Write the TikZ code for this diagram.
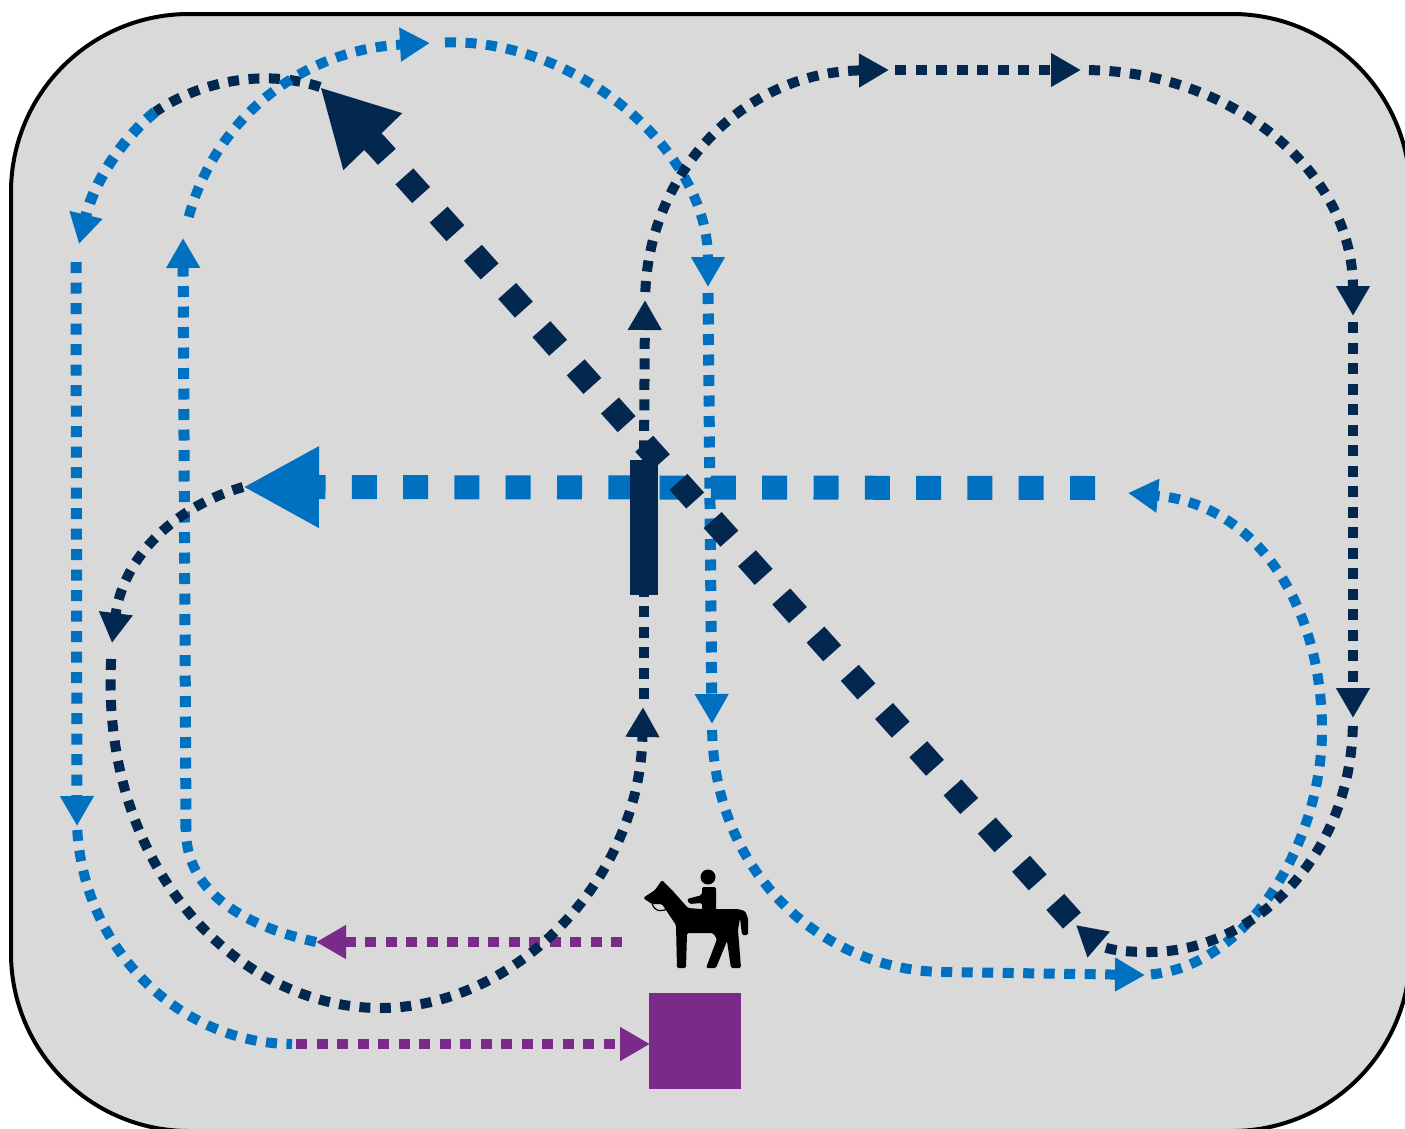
\documentclass[tikz,border=0pt]{standalone}
\usepackage{tikz}
\usetikzlibrary{arrows.meta}
\definecolor{ringgrey}{HTML}{D9D9D9}
\definecolor{trackblue}{HTML}{0070C0}
\definecolor{tracknavy}{HTML}{03284F}
\definecolor{trackpurple}{HTML}{7A2A88}
\tikzset{
  thin track/.style={line width=#1, dash pattern=on 11pt off 9.5pt, -{Triangle[length=30pt,width=32pt]}},
  thin track/.default=11pt,
  plain track/.style={line width=10pt, dash pattern=on 11pt off 9.5pt},
  wide track/.style={line width=24pt, dash pattern=on 25pt off 26.3pt, -{Triangle[length=76pt,width=76pt]}},
  gap/.style={shorten <=#1}
}
\begin{document}
\begin{tikzpicture}[x=1pt,y=-1pt]
   \useasboundingbox (0,0) rectangle (1405,1128);
   \clip (0,0) rectangle (1405,1128);
   \draw[fill=ringgrey, line width=4pt, rounded corners=178pt] (11,14) rectangle (1410,1131);

   \coordinate (tip) at (320,87);
   \coordinate (bend) at (378,147);
   \coordinate (a1) at (155,112);
   \coordinate (a2) at (79,244);
   \coordinate (a3) at (76,262);
   \coordinate (a4) at (77,826);
   \coordinate (a5) at (292,1044);
   \coordinate (b1) at (622,942);
   \coordinate (b2) at (316,942);
   \coordinate (b3) at (186,830);
   \coordinate (b4) at (183,238);
   \coordinate (b5) at (430,43);
   \coordinate (b6) at (708,287);
   \coordinate (b7) at (712,724);
   \coordinate (b8) at (945,972);
   \coordinate (b9) at (1145,975);
   \coordinate (b10) at (1322,730);
   \coordinate (b11) at (1128,493);
   \coordinate (c1) at (1095,488);
   \coordinate (c2) at (243,487);
   \coordinate (d1) at (112,643);
   \coordinate (d2) at (380,1008);
   \coordinate (d3) at (643,707);
   \coordinate (d4) at (645,300);
   \coordinate (d5) at (889,70);
   \coordinate (d6) at (1081,70);
   \coordinate (d7) at (1353,316);
   \coordinate (d8) at (1353,718);
   \coordinate (d9) at (1150,952);
   \coordinate (d10) at (1076,925);
   \coordinate (entry) at (650,1044);

   \node[fill=trackpurple, inner sep=0pt, minimum width=92pt, minimum height=96pt] (gate) at (695,1041) {};

   \path[draw=tracknavy, plain track] (tip) .. controls (270,70) and (205,78) .. (a1);
   \draw[trackblue, thin track] (a1) .. controls (115,145) and (92,190) .. (a2);
   \draw[trackblue, thin track] (a3) -- (a4);
   \draw[trackblue, plain track, gap=4pt] (a4) .. controls (85,955) and (185,1044) .. (a5);
   \draw[trackpurple, thin track=10pt, gap=4pt] (a5) -- (entry);

   \draw[trackpurple, thin track=10pt] (b1) -- (b2);
   \draw[trackblue, plain track] (b2) .. controls (240,925) and (186,890) .. (b3);
   \draw[trackblue, thin track] (b3) -- (b4);
   \draw[trackblue, thin track=10pt, gap=22pt] (b4) .. controls (215,120) and (300,50) .. (b5);
   \draw[trackblue, thin track=10pt, gap=15pt] (b5) .. controls (575,38) and (708,150) .. (b6);
   \draw[trackblue, thin track, gap=6pt] (b6) -- (b7);
   \draw[trackblue, thin track=10pt, gap=6pt] (b7) .. controls (715,880) and (830,972) .. (b8) -- (b9);
   \draw[trackblue, thin track=10pt, gap=6pt] (b9) .. controls (1250,965) and (1322,840) .. (b10)
        .. controls (1322,610) and (1260,505) .. (b11);
   \draw[trackblue, wide track] (c1) -- (c2);

   \node[fill=tracknavy, inner sep=0pt, minimum width=28pt, minimum height=135pt] (bar) at (644,527) {};

   \draw[tracknavy, thin track=10pt] (c2) .. controls (165,510) and (122,565) .. (d1);
   \draw[tracknavy, thin track=10pt, gap=16pt] (d1) .. controls (100,870) and (240,1008) .. (d2)
        .. controls (515,1008) and (640,880) .. (d3);
   \draw[tracknavy, plain track, gap=8pt] (d3 -| bar.south) -- (bar.south);
   \draw[tracknavy, thin track=10pt, gap=8pt] (bar.north) -- (d4);
   \draw[tracknavy, thin track=10pt, gap=8pt] (d4) .. controls (650,170) and (745,72) .. (d5);
   \draw[tracknavy, thin track=10pt, gap=6pt] (d5) -- (d6);
   \draw[tracknavy, thin track=10pt, gap=8pt] (d6) .. controls (1230,72) and (1353,170) .. (d7);
   \draw[tracknavy, thin track=10pt, gap=6pt] (d7) -- (d8);
   \draw[tracknavy, thin track=10pt, gap=8pt] (d8) .. controls (1350,860) and (1250,952) .. (d9)
        .. controls (1125,952) and (1105,950) .. (d10);
   \draw[tracknavy, wide track, gap=6pt] (d10) -- (bend) -- (tip);

   \fill[black, rounded corners=1.5pt] (643,898) -- (655,890) -- (662,880) -- (672,890) -- (688,908)
        -- (701,909) -- (738,909) -- (745,911) -- (748,918) -- (748,935) -- (742,935) -- (740,918)
        -- (738,930) -- (741,968) -- (731,968) -- (727,941) -- (716,968) -- (706,968) -- (717,939)
        -- (713,933) -- (687,933) -- (686,968) -- (677,968) -- (676,925) -- (662,904) -- (652,904) -- cycle;
   \draw[black, line width=1.2pt] (652,903) .. controls (654,912) and (664,913) .. (668,907);
   \fill[black] (708,877) circle [radius=7.5pt];
   \fill[black, rounded corners=2pt] (702,887) -- (716,887) -- (716,910) -- (702,910) -- (702,903)
        -- (689,904) -- (687,899) -- (702,895) -- cycle;
\end{tikzpicture}
\end{document}
